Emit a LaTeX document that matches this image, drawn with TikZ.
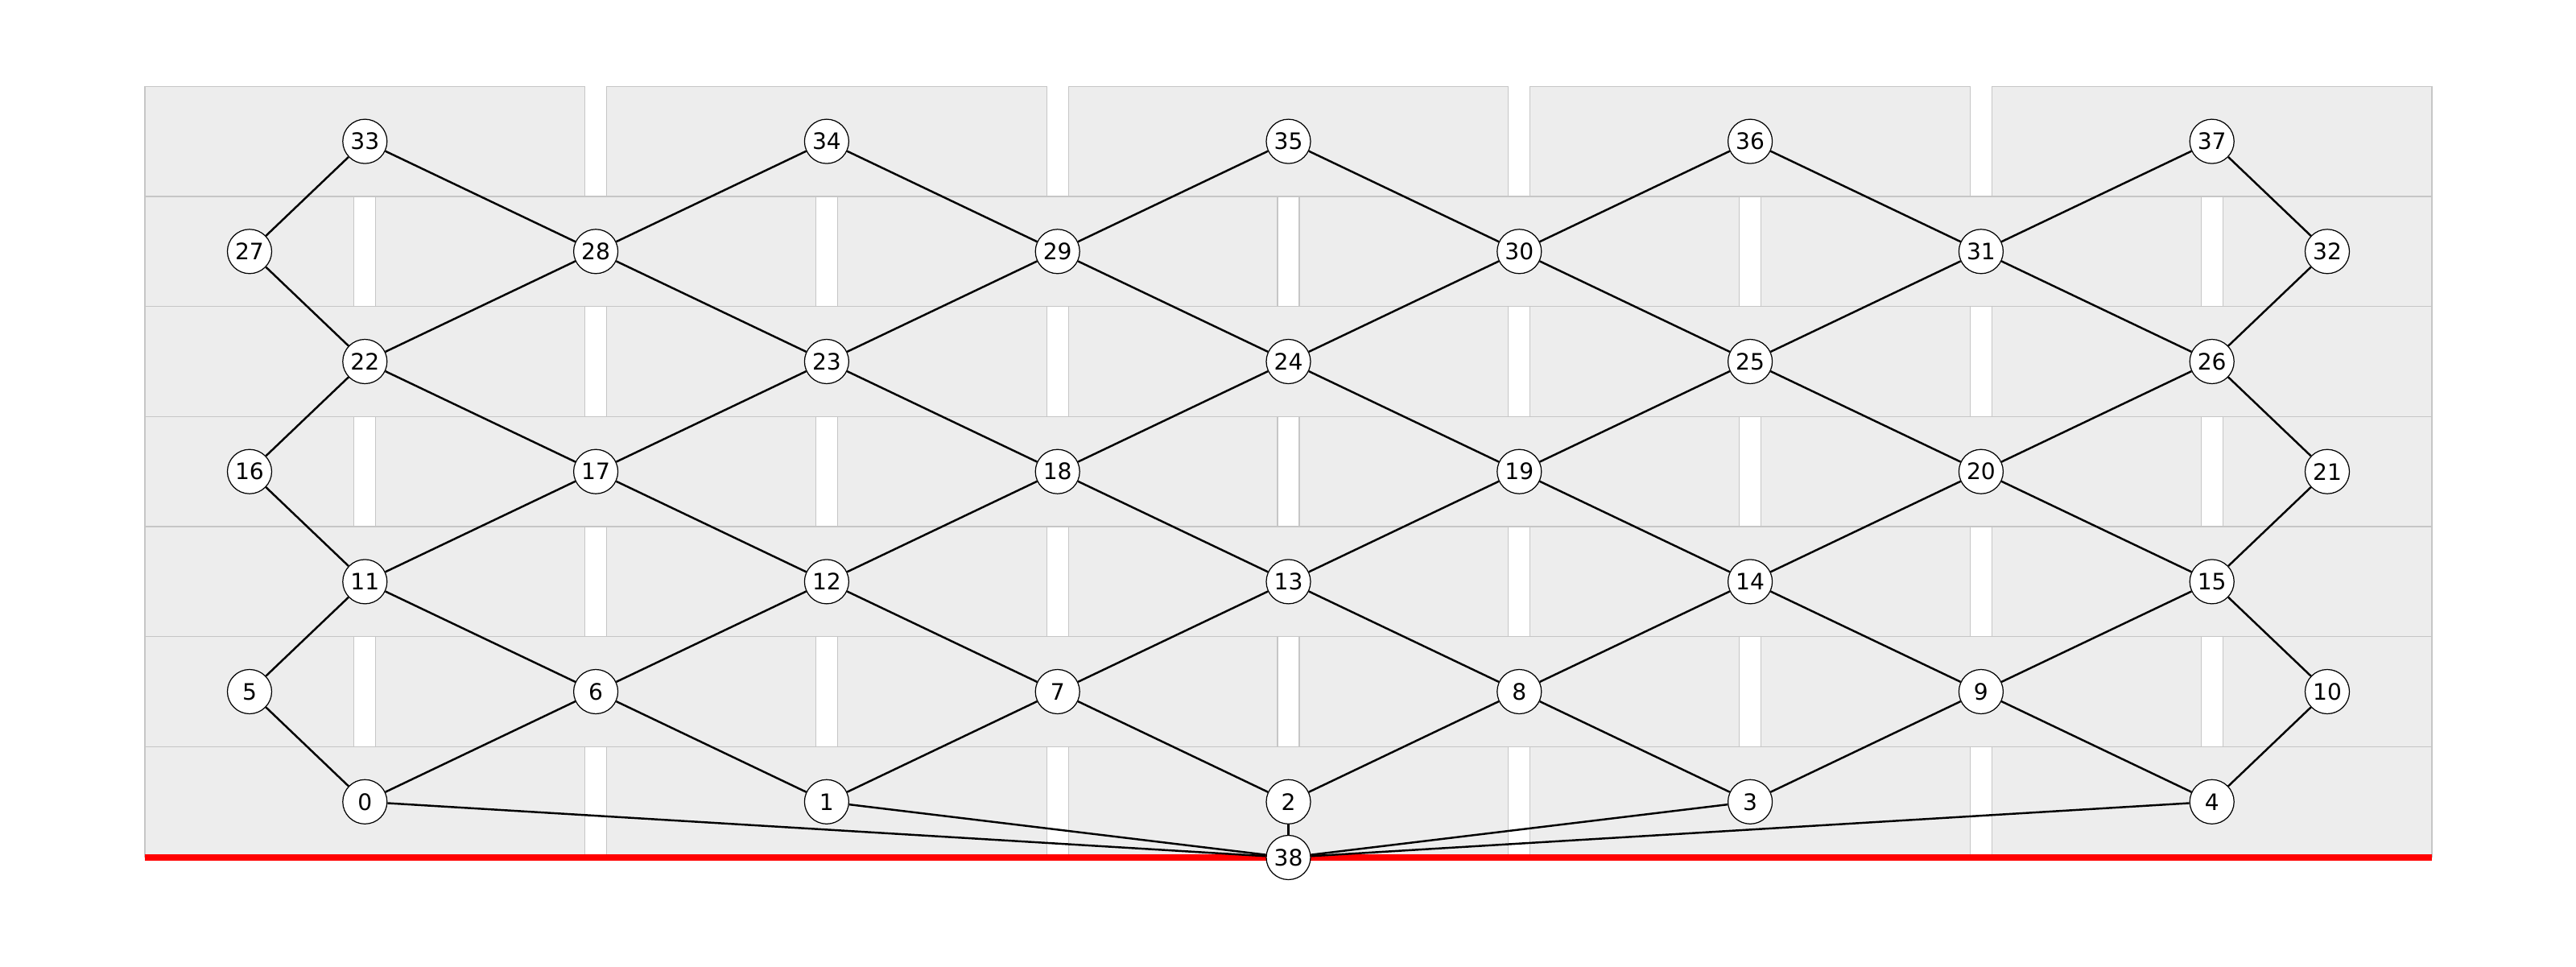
\documentclass[tikz,border=0pt]{standalone}
\usepackage{fontspec}
\setmainfont{DejaVu Sans}
\definecolor{brickfill}{HTML}{EDEDED}
\definecolor{brickline}{HTML}{C6C6C6}
\begin{document}
\begin{tikzpicture}[
  vert/.style={circle, draw=black, line width=0.35pt, fill=white, minimum size=0.55cm, inner sep=0pt, font=\fontsize{8}{9}\selectfont},
  link/.style={line width=0.7pt, draw=black},
  brick/.style={fill=brickfill, draw=brickline, line width=0.35pt},
  base/.style={draw=red, line width=2.3pt}]
\useasboundingbox (0,0) rectangle (32,12);
\def\W{5.466}\def\G{0.27}\def\H{1.367}\def\X{1.80}\def\T{10.927}\def\R{30.21}
% bricks
\foreach \k in {0,2,4,6}{
  \foreach \i in {0,...,4}{
    \draw[brick] ({\X+\i*(\W+\G)},{\T-\k*\H}) rectangle ++(\W,-\H);
  }
}
\foreach \k in {1,3,5}{
  \draw[brick] (\X,{\T-\k*\H}) rectangle ++({(\W-\G)/2},-\H);
  \foreach \j in {0,...,3}{
    \draw[brick] ({\X+(\W-\G)/2+\G+\j*(\W+\G)},{\T-\k*\H}) rectangle ++(\W,-\H);
  }
  \draw[brick] ({\R-(\W-\G)/2},{\T-\k*\H}) rectangle ++({(\W-\G)/2},-\H);
}
% base line
\coordinate (bl) at (\X,1.35);
\coordinate (br) at (\R,1.35);
\draw[base] (bl) -- (br);
% nodes
\foreach \n/\x/\y in {
  33/4.533/10.244, 34/10.269/10.244, 35/16.005/10.244, 36/21.741/10.244, 37/27.477/10.244,
  27/3.10/8.877, 28/7.401/8.877, 29/13.137/8.877, 30/18.873/8.877, 31/24.609/8.877, 32/28.91/8.877,
  22/4.533/7.51, 23/10.269/7.51, 24/16.005/7.51, 25/21.741/7.51, 26/27.477/7.51,
  16/3.10/6.143, 17/7.401/6.143, 18/13.137/6.143, 19/18.873/6.143, 20/24.609/6.143, 21/28.91/6.143,
  11/4.533/4.776, 12/10.269/4.776, 13/16.005/4.776, 14/21.741/4.776, 15/27.477/4.776,
  5/3.10/3.41, 6/7.401/3.41, 7/13.137/3.41, 8/18.873/3.41, 9/24.609/3.41, 10/28.91/3.41,
  0/4.533/2.042, 1/10.269/2.042, 2/16.005/2.042, 3/21.741/2.042, 4/27.477/2.042,
  38/16.005/1.35}{
  \node[vert] (n\n) at (\x,\y) {\n};
}
% edges
\foreach \a/\b in {
  33/27, 33/28, 34/28, 34/29, 35/29, 35/30, 36/30, 36/31, 37/31, 37/32,
  27/22, 28/22, 28/23, 29/23, 29/24, 30/24, 30/25, 31/25, 31/26, 32/26,
  22/16, 22/17, 23/17, 23/18, 24/18, 24/19, 25/19, 25/20, 26/20, 26/21,
  16/11, 17/11, 17/12, 18/12, 18/13, 19/13, 19/14, 20/14, 20/15, 21/15,
  11/5, 11/6, 12/6, 12/7, 13/7, 13/8, 14/8, 14/9, 15/9, 15/10,
  5/0, 6/0, 6/1, 7/1, 7/2, 8/2, 8/3, 9/3, 9/4, 10/4,
  0/38, 1/38, 2/38, 3/38, 4/38}{
  \draw[link] (n\a) -- (n\b);
}
\end{tikzpicture}
\end{document}
